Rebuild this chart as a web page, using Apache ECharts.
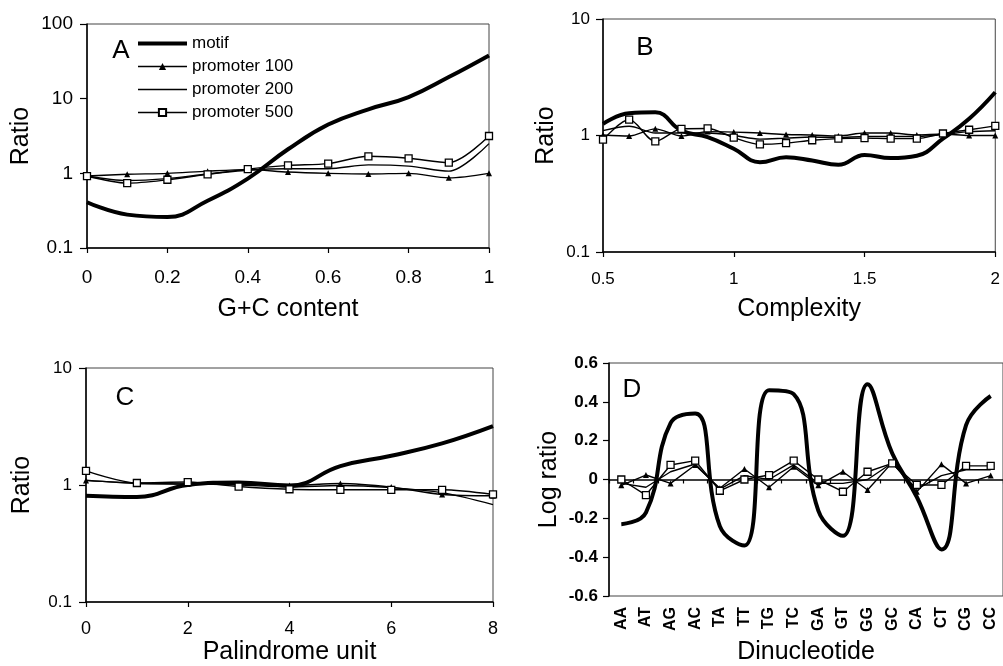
<!DOCTYPE html>
<html>
<head>
<meta charset="utf-8">
<script src="https://cdn.jsdelivr.net/npm/echarts@6/dist/echarts.min.js"></script>
<style>
html,body{margin:0;padding:0;background:#fff;}
#chart{width:1003px;height:666px;}
</style>
</head>
<body>
<div id="chart"></div>
<script>
// ---- Data ----
const seriesNames = ['motif', 'promoter 100', 'promoter 200', 'promoter 500'];

// Panel A: G+C content
const gcX = [0, 0.1, 0.2, 0.3, 0.4, 0.5, 0.6, 0.7, 0.8, 0.9, 1];
const gcMotif = [0.41, 0.28, 0.26, 0.43, 0.85, 2.1, 4.5, 7.2, 10.5, 19.5, 38];
const gcP100 = [0.92, 0.97, 1.0, 1.07, 1.12, 1.04, 1.0, 0.98, 1.0, 0.87, 1.0];
const gcP200 = [0.92, 0.8, 0.85, 0.98, 1.1, 1.15, 1.15, 1.3, 1.25, 1.07, 2.5];
const gcP500 = [0.92, 0.74, 0.82, 0.97, 1.14, 1.28, 1.35, 1.69, 1.59, 1.39, 3.16];

// Panel B: Complexity
const cxX = [0.5, 0.6, 0.7, 0.8, 0.9, 1.0, 1.1, 1.2, 1.3, 1.4, 1.5, 1.6, 1.7, 1.8, 1.9, 2.0];
const cxMotif = [1.26, 1.55, 1.58, 1.1, 0.97, 0.77, 0.59, 0.65, 0.61, 0.56, 0.68, 0.64, 0.67, 0.94, 1.39, 2.35];
const cxP100 = [1.01, 0.99, 1.14, 0.99, 1.08, 1.07, 1.05, 1.02, 1.01, 0.99, 1.05, 1.05, 1.01, 1.03, 1.0, 1.0];
const cxP200 = [1.1, 1.2, 1.05, 1.05, 1.05, 1.0, 0.93, 0.95, 0.97, 0.96, 0.98, 0.98, 0.98, 1.02, 1.08, 1.1];
const cxP500 = [0.92, 1.37, 0.89, 1.14, 1.15, 0.96, 0.84, 0.86, 0.91, 0.94, 0.95, 0.94, 0.94, 1.04, 1.12, 1.21];

// Panel C: Palindrome unit
const palX = [0, 1, 2, 3, 4, 5, 6, 7, 8];
const palMotif = [0.81, 0.79, 1.0, 1.05, 0.99, 1.45, 1.78, 2.27, 3.19];
const palP100 = [1.09, 1.04, 1.02, 1.02, 0.99, 1.03, 0.96, 0.83, 0.81];
const palP200 = [1.1, 1.03, 1.02, 1.0, 0.96, 0.99, 0.95, 0.86, 0.68];
const palP500 = [1.32, 1.04, 1.06, 0.97, 0.92, 0.91, 0.91, 0.91, 0.83];

// Panel D: Dinucleotide (log ratio)
const dinucCats = ['AA', 'AT', 'AG', 'AC', 'TA', 'TT', 'TG', 'TC', 'GA', 'GT', 'GG', 'GC', 'CA', 'CT', 'CG', 'CC'];
const dnMotif = [-0.23, -0.17, 0.29, 0.34, -0.24, -0.34, 0.46, 0.44, -0.16, -0.29, 0.49, 0.135, -0.09, -0.36, 0.28, 0.43];
const dnP100 = [-0.03, 0.023, -0.02, 0.075, -0.045, 0.054, -0.04, 0.066, -0.03, 0.04, -0.054, 0.087, -0.063, 0.078, -0.02, 0.02];
const dnP200 = [-0.02, -0.04, 0.04, 0.08, -0.05, 0.02, 0.0, 0.075, -0.02, -0.02, 0.0, 0.085, -0.05, 0.02, 0.05, 0.05];
const dnP500 = [0.0, -0.08, 0.075, 0.097, -0.058, 0.0, 0.023, 0.097, 0.0, -0.063, 0.04, 0.083, -0.028, -0.028, 0.07, 0.07];

const panelLetters = ['A', 'B', 'C', 'D'];

// ---- Styles ----
const FONT = '"Liberation Sans", Arial, Helvetica, sans-serif';
const CLEAR = 'rgba(0,0,0,0)';
function styleFor(idx, smoothVal) {
  const base = { type: 'line', animation: false, silent: true };
  if (idx === 0) return Object.assign(base, { showSymbol: false, symbol: 'circle', symbolSize: 0, smooth: 0.45, lineStyle: { color: '#000', width: 4 }, itemStyle: { color: CLEAR, borderColor: CLEAR, borderWidth: 0 }, z: 3 });
  if (idx === 1) return Object.assign(base, { symbol: 'triangle', symbolSize: 6, smooth: smoothVal, lineStyle: { color: '#000', width: 1.4 }, itemStyle: { color: '#000' }, z: 4 });
  if (idx === 2) return Object.assign(base, { showSymbol: false, symbol: 'circle', symbolSize: 0, smooth: smoothVal, lineStyle: { color: '#000', width: 1.4 }, itemStyle: { color: CLEAR, borderColor: CLEAR, borderWidth: 0 }, z: 4 });
  return Object.assign(base, { symbol: 'rect', symbolSize: 7, smooth: smoothVal, lineStyle: { color: '#000', width: 1.4 }, itemStyle: { color: '#fff', borderColor: '#000', borderWidth: 1.3 }, z: 5 });
}
function xySeries(gi, xs, arrs, smoothVal) {
  return arrs.map((ys, i) => Object.assign(styleFor(i, smoothVal), {
    name: seriesNames[i], xAxisIndex: gi, yAxisIndex: gi,
    data: xs.map((x, k) => [x, ys[k]])
  }));
}
function catSeries(gi, arrs) {
  return arrs.map((ys, i) => Object.assign(styleFor(i, i === 0 ? 0.45 : false), {
    name: seriesNames[i], xAxisIndex: gi, yAxisIndex: gi, data: ys.slice()
  }));
}

const axisLineStyle = { show: true, lineStyle: { color: '#000', width: 1.5 } };
const tickStyle = (len) => ({ show: true, inside: false, length: len, lineStyle: { color: '#000', width: 1.2 } });
const logFmt = v => (v >= 1 ? String(Math.round(v)) : String(+(+v).toFixed(1)));

function valX(gi, min, max, interval, name, gap, fs, margin) {
  return { gridIndex: gi, type: 'value', min, max, interval, name, nameLocation: 'middle', nameGap: gap,
    nameTextStyle: { fontSize: 25, color: '#000', fontFamily: FONT },
    axisLine: axisLineStyle, axisTick: tickStyle(5), splitLine: { show: false },
    axisLabel: { fontSize: fs, color: '#000', margin, fontFamily: FONT } };
}
function logY(gi, min, max, gap, fs, margin) {
  return { gridIndex: gi, type: 'log', logBase: 10, min, max, name: 'Ratio', nameLocation: 'middle', nameGap: gap, nameRotate: 90,
    nameTextStyle: { fontSize: 25, color: '#000', fontFamily: FONT },
    axisLine: axisLineStyle, axisTick: tickStyle(7), splitLine: { show: false }, minorTick: { show: false },
    axisLabel: { fontSize: fs, color: '#000', margin, formatter: logFmt, fontFamily: FONT } };
}

const gridBase = { show: true, borderColor: '#444', borderWidth: 1, backgroundColor: 'transparent', containLabel: false };
const letterPos = [[121, 51], [645, 47.5], [125, 397.5], [632, 390]];

const option = {
  animation: false,
  backgroundColor: '#fff',
  textStyle: { fontFamily: FONT, color: '#000' },
  grid: [
    Object.assign({ left: 87, top: 24, width: 402, height: 224 }, gridBase),
    Object.assign({ left: 603, top: 19, width: 397, height: 233 }, gridBase),
    Object.assign({ left: 86, top: 368, width: 407, height: 239 }, gridBase),
    Object.assign({ left: 609, top: 363, width: 401, height: 233 }, gridBase)
  ],
  xAxis: [
    valX(0, 0, 1, 0.2, 'G+C content', 49, 19, 20),
    valX(1, 0.5, 2, 0.5, 'Complexity', 45, 17, 19),
    valX(2, 0, 8, 2, 'Palindrome unit', 38, 18, 18),
    { gridIndex: 3, type: 'category', data: dinucCats, boundaryGap: true, name: 'Dinucleotide', nameLocation: 'middle', nameGap: 44,
      nameTextStyle: { fontSize: 25, color: '#000', fontFamily: FONT },
      axisLine: axisLineStyle, axisTick: Object.assign(tickStyle(4), { alignWithLabel: false, interval: 0 }), splitLine: { show: false },
      axisLabel: { interval: 0, rotate: 90, fontSize: 16, fontWeight: 'bold', color: '#000', margin: 11, fontFamily: FONT } }
  ],
  yAxis: [
    logY(0, 0.1, 100, 53, 19, 14),
    logY(1, 0.1, 10, 44, 17, 13),
    logY(2, 0.1, 10, 51, 17, 14),
    { gridIndex: 3, type: 'value', min: -0.6, max: 0.6, interval: 0.2, name: 'Log ratio', nameLocation: 'middle', nameGap: 47, nameRotate: 90,
      nameTextStyle: { fontSize: 25, color: '#000', fontFamily: FONT },
      axisLine: axisLineStyle, axisTick: tickStyle(6), splitLine: { show: false },
      axisLabel: { fontSize: 17, fontWeight: 'bold', color: '#000', margin: 11, fontFamily: FONT,
        formatter: v => String(+(+v).toFixed(1)) } }
  ],
  legend: {
    data: seriesNames, left: 131, top: 30, orient: 'vertical', itemWidth: 49, itemHeight: 9, itemGap: 6,
    selectedMode: false, lineStyle: { width: 'inherit' },
    textStyle: { fontSize: 17, lineHeight: 17, color: '#000', fontFamily: FONT }
  },
  graphic: panelLetters.map((t, i) => ({
    type: 'text', x: letterPos[i][0], y: letterPos[i][1], silent: true,
    style: { text: t, fill: '#000', font: '26px ' + FONT, align: 'center', verticalAlign: 'middle' }
  })),
  series: [].concat(
    xySeries(0, gcX, [gcMotif, gcP100, gcP200, gcP500], 0.3),
    xySeries(1, cxX, [cxMotif, cxP100, cxP200, cxP500], 0.3),
    xySeries(2, palX, [palMotif, palP100, palP200, palP500], 0.3),
    catSeries(3, [dnMotif, dnP100, dnP200, dnP500])
  )
};

const chart = echarts.init(document.getElementById('chart'), null, { renderer: 'canvas' });
chart.setOption(option);
</script>
</body>
</html>
